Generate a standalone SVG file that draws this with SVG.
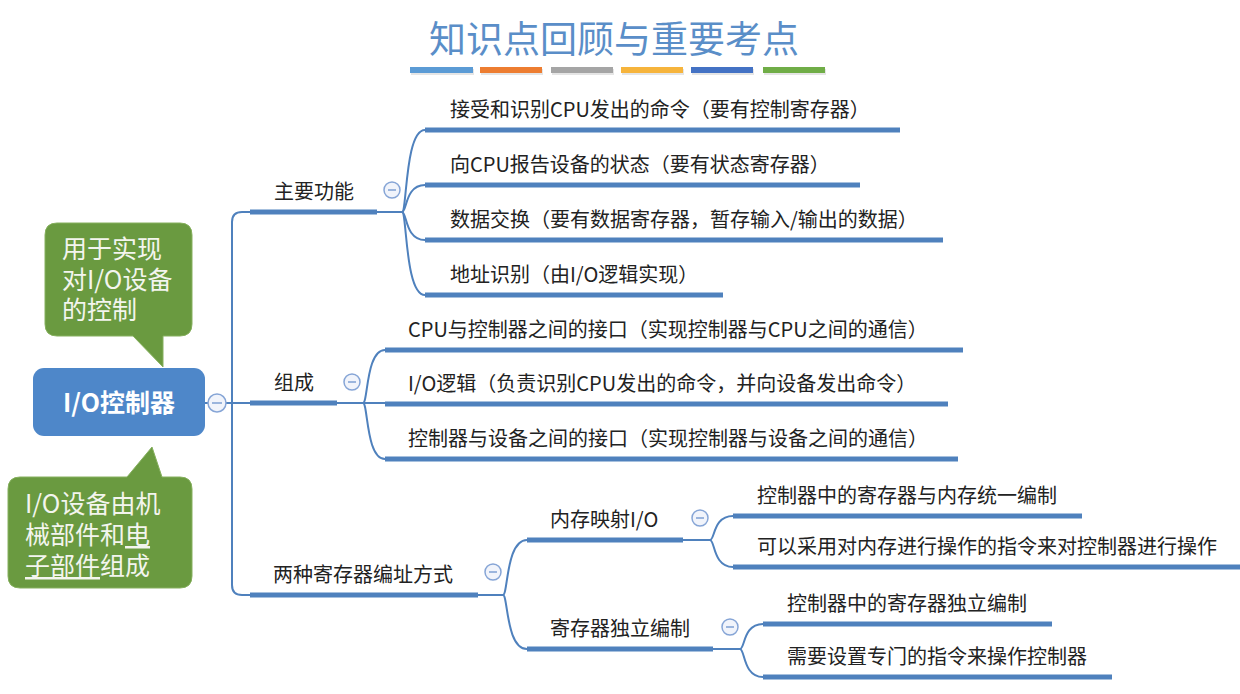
<svg xmlns="http://www.w3.org/2000/svg" width="1240" height="694" viewBox="0 0 1240 694">
<defs>
<style>
text{font-family:"Noto Sans CJK SC","Noto Sans",sans-serif;}
.t{font-size:20px;fill:#222;}
.thick{stroke:#4f81bd;stroke-width:5;fill:none;}
.thin{stroke:#4f81bd;stroke-width:2;fill:none;}
.cb circle{fill:#f1f4fb;stroke:#86a5d6;stroke-width:1.5;}
.cb line{stroke:#86a5d6;stroke-width:1.6;}
.call{fill:#6a9a40;stroke:#86b05e;stroke-width:1;}
.ct{font-size:25px;fill:#f3f5ee;}
</style>
</defs>
<rect width="1240" height="694" fill="#ffffff"/>

<g id="title">
<text x="614" y="53" text-anchor="middle" style="font-size:37px;fill:#5a8ec8;">知识点回顾与重要考点</text>
<g opacity="0.25">
<rect x="411" y="69" width="63" height="6" fill="#999"/>
<rect x="481" y="69" width="62" height="6" fill="#999"/>
<rect x="552" y="69" width="62" height="6" fill="#999"/>
<rect x="622" y="69" width="62" height="6" fill="#999"/>
<rect x="692" y="69" width="62" height="6" fill="#999"/>
<rect x="764" y="69" width="62" height="6" fill="#999"/>
</g>
<rect x="410" y="67" width="63" height="6" fill="#5b9bd5"/>
<rect x="480" y="67" width="62" height="6" fill="#ed7d31"/>
<rect x="551" y="67" width="62" height="6" fill="#a5a5a5"/>
<rect x="621" y="67" width="62" height="6" fill="#f6b43c"/>
<rect x="691" y="67" width="62" height="6" fill="#4472c4"/>
<rect x="763" y="67" width="62" height="6" fill="#70ad47"/>
</g>

<g id="connectors">
<path class="thin" d="M205 403 H250"/>
<path class="thin" d="M250 212 H242 Q232 212 232 222 V585 Q232 595 242 595 H250"/>
<path class="thick" d="M250 212 H377"/>
<path class="thin" d="M377 212 H402"/>
<path class="thick" d="M250 403 H337"/>
<path class="thin" d="M337 403 H363"/>
<path class="thick" d="M250 595 H478"/>
<path class="thin" d="M478 595 H503"/>
<path class="thin" d="M402 212 C407 212 405 130 425 130"/>
<path class="thin" d="M402 212 C407 212 405 185 425 185"/>
<path class="thin" d="M402 212 C407 212 405 240 425 240"/>
<path class="thin" d="M402 212 C407 212 405 295 425 295"/>
<path class="thick" d="M425 130 H900"/>
<path class="thick" d="M425 185 H860"/>
<path class="thick" d="M425 240 H943"/>
<path class="thick" d="M425 295 H723"/>
<path class="thin" d="M363 403 C368 403 366 350 385 350"/>
<path class="thin" d="M363 403 H385"/>
<path class="thin" d="M363 403 C368 403 366 459 385 459"/>
<path class="thick" d="M385 350 H963"/>
<path class="thick" d="M385 404 H948"/>
<path class="thick" d="M385 459 H958"/>
<path class="thin" d="M503 595 C508 595 506 540 527 540"/>
<path class="thin" d="M503 595 C508 595 506 649 527 649"/>
<path class="thick" d="M527 540 H683"/>
<path class="thin" d="M683 540 H710"/>
<path class="thick" d="M527 649 H713"/>
<path class="thin" d="M713 649 H740"/>
<path class="thin" d="M710 540 C715 540 713 516 733 516"/>
<path class="thin" d="M710 540 C715 540 713 567 733 567"/>
<path class="thick" d="M733 516 H1082"/>
<path class="thick" d="M733 567 H1240"/>
<path class="thin" d="M740 649 C745 649 743 624 763 624"/>
<path class="thin" d="M740 649 C745 649 743 677 763 677"/>
<path class="thick" d="M763 624 H1052"/>
<path class="thick" d="M763 677 H1112"/>
</g>

<g id="root">
<rect x="33" y="368" width="172" height="68" rx="11" fill="#4e87c9"/>
<text x="119" y="412" text-anchor="middle" style="font-size:25px;font-weight:bold;fill:#ffffff;">I/O控制器</text>
<g class="cb"><circle cx="217" cy="403" r="9"/><line x1="212" y1="403" x2="222" y2="403"/></g>
</g>

<g id="callout-control">
<path class="call" d="M57 223 H180 Q192 223 192 235 V324 Q192 336 180 336 H163 V367 L133 336 H57 Q45 336 45 324 V235 Q45 223 57 223 Z"/>
<text class="ct" x="62" y="258">用于实现</text>
<text class="ct" x="62" y="289">对I/O设备</text>
<text class="ct" x="62" y="319">的控制</text>
</g>

<g id="callout-device">
<path class="call" d="M20 477 H127 L152 447 L162 477 H180 Q192 477 192 489 V576 Q192 588 180 588 H20 Q8 588 8 576 V489 Q8 477 20 477 Z"/>
<text class="ct" x="25" y="513">I/O设备由机</text>
<text class="ct" x="25" y="544">械部件和<tspan text-decoration="underline">电</tspan></text>
<text class="ct" x="25" y="575"><tspan text-decoration="underline">子部件</tspan>组成</text>
</g>

<g id="n-main-func">
<text class="t" x="274" y="199">主要功能</text>
<g class="cb"><circle cx="392" cy="190" r="8"/><line x1="388" y1="190" x2="396" y2="190"/></g>
</g>
<g id="n-compose">
<text class="t" x="274" y="390">组成</text>
<g class="cb"><circle cx="352" cy="382" r="8"/><line x1="348" y1="382" x2="356" y2="382"/></g>
</g>
<g id="n-addr">
<text class="t" x="273" y="582">两种寄存器编址方式</text>
<g class="cb"><circle cx="493" cy="572" r="8"/><line x1="489" y1="572" x2="497" y2="572"/></g>
</g>

<g id="n-f1"><text class="t" x="450" y="117">接受和识别CPU发出的命令（要有控制寄存器）</text></g>
<g id="n-f2"><text class="t" x="450" y="172">向CPU报告设备的状态（要有状态寄存器）</text></g>
<g id="n-f3"><text class="t" x="450" y="227">数据交换（要有数据寄存器，暂存输入/输出的数据）</text></g>
<g id="n-f4"><text class="t" x="450" y="282">地址识别（由I/O逻辑实现）</text></g>

<g id="n-c1"><text class="t" x="408" y="337">CPU与控制器之间的接口（实现控制器与CPU之间的通信）</text></g>
<g id="n-c2"><text class="t" x="408" y="391">I/O逻辑（负责识别CPU发出的命令，并向设备发出命令）</text></g>
<g id="n-c3"><text class="t" x="408" y="446">控制器与设备之间的接口（实现控制器与设备之间的通信）</text></g>

<g id="n-mmio">
<text class="t" x="550" y="527">内存映射I/O</text>
<g class="cb"><circle cx="700" cy="518" r="8"/><line x1="696" y1="518" x2="704" y2="518"/></g>
</g>
<g id="n-indep">
<text class="t" x="550" y="636">寄存器独立编制</text>
<g class="cb"><circle cx="730" cy="627" r="8"/><line x1="726" y1="627" x2="734" y2="627"/></g>
</g>

<g id="n-m1"><text class="t" x="757" y="503">控制器中的寄存器与内存统一编制</text></g>
<g id="n-m2"><text class="t" x="757" y="554">可以采用对内存进行操作的指令来对控制器进行操作</text></g>
<g id="n-i1"><text class="t" x="787" y="611">控制器中的寄存器独立编制</text></g>
<g id="n-i2"><text class="t" x="787" y="664">需要设置专门的指令来操作控制器</text></g>
</svg>
